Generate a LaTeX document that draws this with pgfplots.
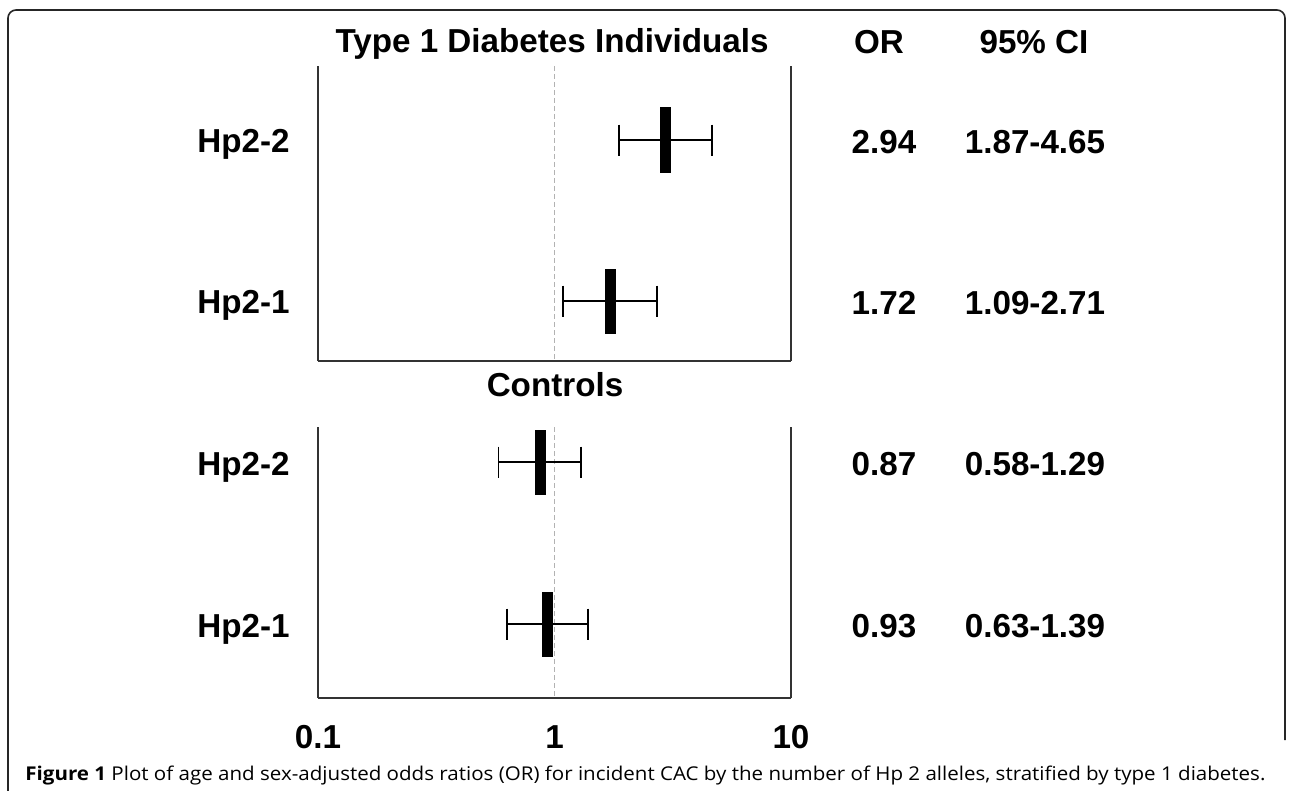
\documentclass[border=0pt]{standalone}
\usepackage{pgfplots}
\pgfplotsset{compat=1.18}
\usepackage{fontspec}
\setmainfont{Liberation Sans}
\newfontfamily\capfont{Open Sans}
\usepackage{graphicx}

\pgfdeclareplotmark{orbox}{%
  \pgfpathrectangle{\pgfpoint{-2.75bp}{-16.25bp}}{\pgfpoint{5.5bp}{32.5bp}}%
  \pgfusepathqfill}

\newcommand{\lab}{\fontsize{16.6bp}{19bp}\selectfont\bfseries}

\begin{document}
\begin{tikzpicture}
\useasboundingbox (0,0) rectangle (645bp,-395.5bp);

% figure frame (open at the bottom right)
\draw[black!85, line width=0.8bp, rounded corners=4bp]
  (4bp,-395.5bp) -- (4bp,-5bp) -- (642.5bp,-5bp) -- (642.5bp,-370bp);

% Type 1 diabetes panel
\begin{axis}[
  scale only axis,
  width=236.5bp,
  xmode=log, xmin=0.1, xmax=10,
  axis x line=bottom, axis y line=box,
  axis line style={-, draw=black!80, line width=1bp},
  ytick=\empty,
  tick style={draw=none},
  major tick length=0pt, minor tick length=0pt,
  clip=false,
  at={(159bp,-180.5bp)}, anchor=south west,
  height=147.5bp, ymin=-361, ymax=-66,
  xtick=\empty, minor xtick={}]
  \addplot[black!30, line width=0.7bp, dash pattern=on 2.5bp off 1.5bp] coordinates {(1,-66) (1,-361)};
  \addplot[black, line width=0.9bp, mark=|, mark size=7.75bp, mark options={line width=0.9bp, solid}] coordinates {(1.87,-140) (4.65,-140)};
  \addplot[black, line width=0.9bp, mark=|, mark size=7.75bp, mark options={line width=0.9bp, solid}] coordinates {(1.09,-301) (2.71,-301)};
  \addplot[only marks, mark=orbox, black] coordinates {(2.94,-140) (1.72,-301)};
\end{axis}

% Controls panel
\begin{axis}[
  scale only axis,
  width=236.5bp,
  xmode=log, xmin=0.1, xmax=10,
  axis x line=bottom, axis y line=box,
  axis line style={-, draw=black!80, line width=1bp},
  ytick=\empty,
  tick style={draw=none},
  major tick length=0pt, minor tick length=0pt,
  clip=false,
  at={(159bp,-349bp)}, anchor=south west,
  height=135.5bp, ymin=-698, ymax=-427,
  xtick={0.1,1,10}, xticklabels={0.1,1,10}, minor xtick={},
  xticklabel style={font=\lab, anchor=base, yshift=-25bp}]
  \addplot[black!30, line width=0.7bp, dash pattern=on 2.5bp off 1.5bp] coordinates {(1,-427) (1,-698)};
  \addplot[black, line width=0.9bp, mark=|, mark size=7.75bp, mark options={line width=0.9bp, solid}] coordinates {(0.58,-462) (1.29,-462)};
  \addplot[black, line width=0.9bp, mark=|, mark size=7.75bp, mark options={line width=0.9bp, solid}] coordinates {(0.63,-624) (1.39,-624)};
  \addplot[only marks, mark=orbox, black] coordinates {(0.87,-462) (0.93,-624)};
\end{axis}

% titles and headers
\node[font=\lab, anchor=base] at (276bp,-26bp) {Type 1 Diabetes Individuals};
\node[font=\lab, anchor=base] at (439.5bp,-26.5bp) {OR};
\node[font=\lab, anchor=base] at (517bp,-26.5bp) {95\% CI};
\node[font=\lab, anchor=base] at (277.5bp,-198bp) {Controls};

% row labels
\node[font=\lab, anchor=base east, inner sep=0pt] at (145bp,-76bp) {Hp2-2};
\node[font=\lab, anchor=base east, inner sep=0pt] at (145bp,-156.5bp) {Hp2-1};
\node[font=\lab, anchor=base east, inner sep=0pt] at (145bp,-237.5bp) {Hp2-2};
\node[font=\lab, anchor=base east, inner sep=0pt] at (145bp,-318.5bp) {Hp2-1};

% OR and CI values
\node[font=\lab, anchor=base] at (442bp,-76.5bp) {2.94};
\node[font=\lab, anchor=base] at (517.5bp,-76.5bp) {1.87-4.65};
\node[font=\lab, anchor=base] at (442bp,-157bp) {1.72};
\node[font=\lab, anchor=base] at (517.5bp,-157bp) {1.09-2.71};
\node[font=\lab, anchor=base] at (442bp,-237.5bp) {0.87};
\node[font=\lab, anchor=base] at (517.5bp,-237.5bp) {0.58-1.29};
\node[font=\lab, anchor=base] at (442bp,-318.5bp) {0.93};
\node[font=\lab, anchor=base] at (517.5bp,-318.5bp) {0.63-1.39};

% caption
\node[anchor=base west, inner sep=0pt] at (12.5bp,-390bp)
  {\resizebox{620bp}{\height}{\capfont\fontsize{9.5bp}{11bp}\selectfont
   \textbf{Figure 1} Plot of age and sex-adjusted odds ratios (OR) for incident CAC by the number of Hp 2 alleles, stratified by type 1 diabetes.}};
\end{tikzpicture}
\end{document}
